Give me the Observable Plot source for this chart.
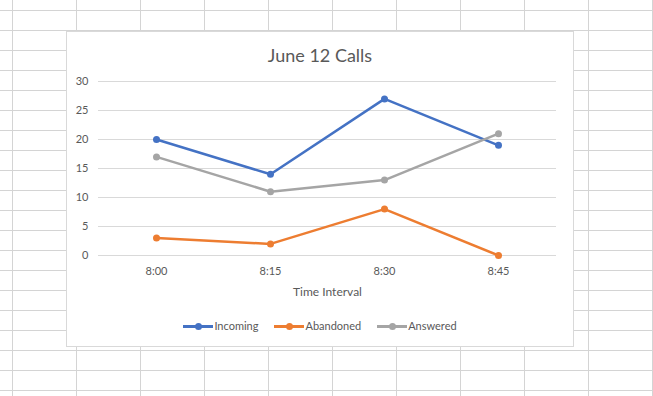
<!DOCTYPE html>
<html>
<head>
<meta charset="utf-8">
<script src="https://cdn.jsdelivr.net/npm/d3@7"></script>
<script src="https://cdn.jsdelivr.net/npm/@observablehq/plot@0.6"></script>
<style>
  html, body { margin: 0; padding: 0; }
  body {
    width: 653px; height: 396px; overflow: hidden; position: relative;
    background-color: #fff;
    background-image:
      linear-gradient(to right, #d4d4d4 1px, transparent 1px),
      linear-gradient(to bottom, #d4d4d4 1px, transparent 1px);
    background-size: 64px 20px;
    background-position: 12px 10px;
    font-family: Lato, "Open Sans", sans-serif;
  }
  #box {
    position: absolute; left: 66px; top: 31px; width: 506px; height: 314px;
    background: #fff; border: 1px solid #d9d9d9;
  }
  #title {
    position: absolute; left: 0; top: 12px; width: 100%; text-align: center;
    font-size: 18px; color: #595959; line-height: 22px;
  }
  #plot { position: absolute; left: 0; top: 40px; }
  #legend {
    position: absolute; left: 0; top: 287px; width: 100%;
    display: flex; justify-content: center; gap: 16px;
    font-size: 11px; color: #595959; line-height: 14px;
  }
  .item { display: flex; align-items: center; }
  .sw { position: relative; width: 30px; height: 14px; margin-right: 1px; }
  .sw .ln { position: absolute; left: 0; top: 6px; width: 30px; height: 2.5px; }
  .sw .dt { position: absolute; left: 11.5px; top: 4px; width: 7px; height: 7px; border-radius: 50%; }
</style>
</head>
<body>
<div id="box">
  <div id="title">June 12 Calls</div>
  <div id="plot"></div>
  <div id="legend"></div>
</div>
<script>
const times = ["8:00", "8:15", "8:30", "8:45"];
const seriesNames = ["Incoming", "Abandoned", "Answered"];
const incoming = [20, 14, 27, 19];
const abandoned = [3, 2, 8, 0];
const answered = [17, 11, 13, 21];
const colors = ["#4472C4", "#ED7D31", "#A5A5A5"];
const yTicks = [0, 5, 10, 15, 20, 25, 30];

const valuesBySeries = [incoming, abandoned, answered];
const data = [];
seriesNames.forEach((s, i) => times.forEach((t, j) => data.push({series: s, time: t, value: valuesBySeries[i][j]})));

const chart = Plot.plot({
  width: 506,
  height: 232,
  marginTop: 9,
  marginBottom: 49,
  marginLeft: 31,
  marginRight: 17,
  style: {fontFamily: "Lato, 'Open Sans', sans-serif", fontSize: "11px", color: "#595959", background: "transparent"},
  x: {type: "point", domain: times, padding: 0.5, align: 0.5, label: null},
  y: {domain: [0, 30], ticks: yTicks, label: null},
  color: {domain: seriesNames, range: colors},
  marks: [
    Plot.gridY(yTicks, {stroke: "#d9d9d9", strokeOpacity: 1}),
    Plot.axisY(yTicks, {tickSize: 0, tickPadding: 10, label: null, fill: "#595959"}),
    Plot.axisX({tickSize: 0, tickPadding: 12, label: null, fill: "#595959"}),
    Plot.text(["Time Interval"], {frameAnchor: "bottom", dy: 40, fontSize: 12, fill: "#595959"}),
    Plot.line(data, {x: "time", y: "value", z: "series", stroke: "series", strokeWidth: 2.5, strokeLinejoin: "round", strokeLinecap: "round"}),
    Plot.dot(data, {x: "time", y: "value", fill: "series", r: 3.5})
  ]
});
document.getElementById("plot").appendChild(chart);

const legend = document.getElementById("legend");
seriesNames.forEach((s, i) => {
  const item = document.createElement("div");
  item.className = "item";
  item.innerHTML = `<span class="sw"><span class="ln" style="background:${colors[i]}"></span><span class="dt" style="background:${colors[i]}"></span></span><span>${s}</span>`;
  legend.appendChild(item);
});
</script>
</body>
</html>
